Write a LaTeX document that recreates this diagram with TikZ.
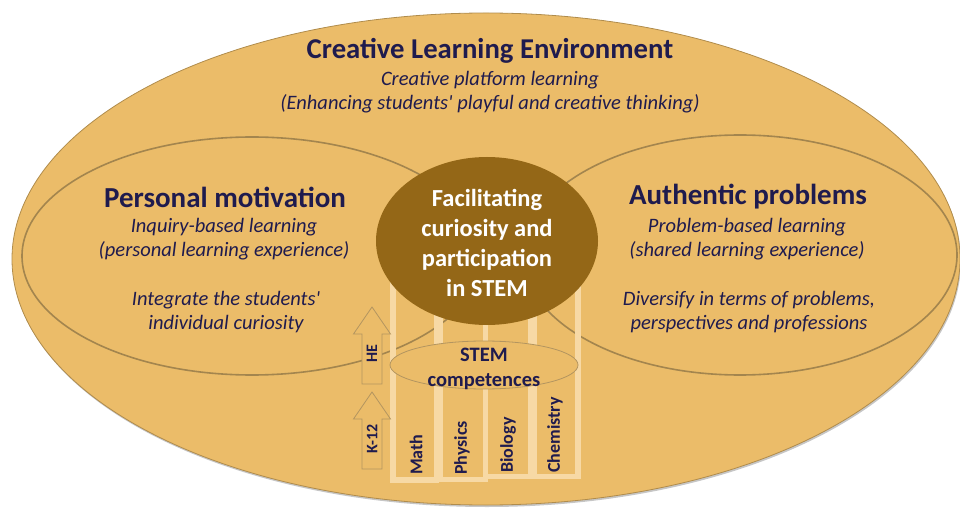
\documentclass[tikz,border=0pt]{standalone}
\usepackage{fontspec}
\setmainfont{Carlito}
\usepackage{xcolor}
\definecolor{envfill}{HTML}{EBBC69}
\definecolor{envline}{HTML}{B08C4C}
\definecolor{ringline}{HTML}{A3854E}
\definecolor{corebrown}{HTML}{946717}
\definecolor{navytext}{HTML}{1F1B4E}
\definecolor{stripe}{HTML}{F7D9A5}
\definecolor{arrowline}{HTML}{B39560}

\tikzset{
  heading/.style={text=navytext,inner sep=0pt,font=\bfseries\fontsize{29}{32}\selectfont},
  remark/.style={text=navytext,inner sep=0pt,align=center,font=\itshape\fontsize{20.5}{23.5}\selectfont},
  subject/.style={text=navytext,inner sep=0pt,rotate=90,anchor=west,font=\bfseries\fontsize{18}{18}\selectfont},
  ring/.style={draw=ringline,line width=1.6pt},
  column/.style={draw=stripe,line width=5.5pt},
  levelarrow/.style={draw=arrowline,fill=envfill,line width=0.8pt}
}

\begin{document}
\begin{tikzpicture}[x=1pt,y=-1pt]
  \useasboundingbox (0,0) rectangle (960,510);
  % environment
  \fill[gray!45] (487,261) circle [x radius=474,y radius=246];
  \filldraw[fill=envfill,draw=envline,line width=0.8pt] (486,259) circle [x radius=474,y radius=246];
  \node[text=navytext,inner sep=0pt,font=\bfseries\fontsize{28.7}{32}\selectfont] (env) at (490,51) {Creative Learning Environment};
  \node[remark] (envnote) at (490,92) {Creative platform learning\\(Enhancing students\textquotesingle{} playful and creative thinking)};

  % the two rings
  \draw[ring] (252,256) circle [x radius=230,y radius=119];
  \draw[ring] (740,255) circle [x radius=217,y radius=120];

  % subject columns
  \foreach \xl/\xr/\yb in {393/436.5/480,440.5/485.5/479.5,485.5/531/476.5,534.5/578/476.5}{
    \draw[column] (\xl,250) rectangle (\xr,\yb);
  }

  % core
  \fill[corebrown] (487,241) circle [x radius=111,y radius=84];
  \node[text=white,inner sep=0pt,align=center,font=\bfseries\fontsize{24.5}{30}\selectfont] (core) at (487,243) {Facilitating\\curiosity and\\participation\\in STEM};

  % competences
  \filldraw[fill=envfill,draw=arrowline,line width=0.8pt] (484,365) circle [x radius=94,y radius=24];
  \node[text=navytext,inner sep=0pt,align=center,font=\bfseries\fontsize{20.5}{25}\selectfont] (competences) at (484,369) {STEM\\competences};

  % levels
  \foreach \tip/\lab [count=\i] in {307/HE,392/K-12}{
    \draw[levelarrow] (372,\tip) -- (390.5,\tip+27) -- (382,\tip+27) -- (382,\tip+77) -- (362,\tip+77) -- (362,\tip+27) -- (353.5,\tip+27) -- cycle;
    \node[text=navytext,inner sep=0pt,rotate=90,font=\bfseries\fontsize{16}{16}\selectfont] (level\i) at (372,\tip+47) {\lab};
  }

  \foreach \x/\yb/\lab [count=\i] in {416/475/Math,462/475/Physics,508/473/Biology,555/473/Chemistry}{
    \node[subject] (subject\i) at (\x,\yb) {\lab};
  }

  % personal motivation
  \node[heading] (personal) at (225,197) {Personal motivation};
  \node[remark] (personalnote) at (224,239) {Inquiry-based learning\\(personal learning experience)};
  \node[remark] (personalaim) at (226,312) {Integrate the students\textquotesingle\\individual curiosity};

  % authentic problems
  \node[heading] (authentic) at (748,197) {Authentic problems};
  \node[remark] (authenticnote) at (747,239) {Problem-based learning\\(shared learning experience)};
  \node[remark] (authenticaim) at (749,312) {Diversify in terms of problems,\\perspectives and professions};
\end{tikzpicture}
\end{document}
